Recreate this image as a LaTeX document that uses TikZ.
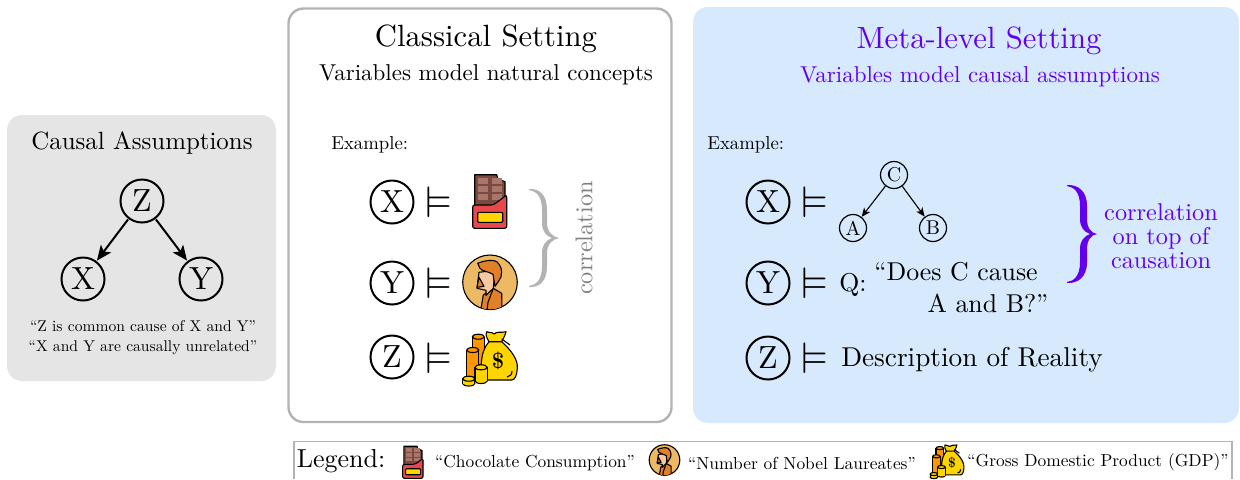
\documentclass[tikz,border=0pt]{standalone}
\usepackage{amssymb}
\usetikzlibrary{arrows.meta}

\definecolor{metablue}{HTML}{D7E9FD}
\definecolor{metapurple}{HTML}{6200EE}
\definecolor{panelgray}{HTML}{E5E5E5}
\definecolor{framegray}{HTML}{B3B3B3}
\definecolor{wrapred}{HTML}{E8474C}
\definecolor{barbrown}{HTML}{7A4A3F}
\definecolor{barlight}{HTML}{A8766A}
\definecolor{bagyellow}{HTML}{FFD500}
\definecolor{coinorange}{HTML}{FF9800}
\definecolor{skinorange}{HTML}{EDB965}
\definecolor{hairorange}{HTML}{E2802A}
\definecolor{facepeach}{HTML}{F6C9A0}

\newcommand{\fsz}[1]{\fontsize{#1}{#1}\selectfont}
% fill, centre x, half width, top y, bottom y
\newcommand{\coincyl}[5]{
  \filldraw[icon outline,fill=#1] (#2,#5) ellipse (#3 and 2.5);
  \fill[#1] ({#2-#3},#4) rectangle ({#2+#3},#5);
  \draw[icon outline] ({#2-#3},#4) -- ({#2-#3},#5) ({#2+#3},#4) -- ({#2+#3},#5);
  \filldraw[icon outline,fill=#1] (#2,#4) ellipse (#3 and 2.5);
}

\tikzset{
  every node/.style={font=\fsz{10}},
  varnode/.style={shape=circle,draw,line width=1pt,minimum size=13.44pt,inner sep=0pt,scale=1.6},
  smallnode/.style={shape=circle,draw,line width=0.6pt,minimum size=13.5pt,inner sep=0pt},
  modelsym/.style={inner sep=0pt,scale=2.2},
  causearrow/.style={-{Stealth[length=7.5pt,width=6.4pt,inset=1.8pt]},line width=1pt},
  smallarrow/.style={-{Stealth[length=4.5pt,width=3.8pt,inset=1.2pt]},line width=0.55pt},
  panelbox/.style={rounded corners=7.5pt},
  icon outline/.style={draw=black,line width=0.55pt,line join=round},
  pics/bigbrace/.style={code={
    \fill (-30,-49) .. controls (-20,-49.5) and (#1,-44) .. (#1,-28) -- (#1,-15) .. controls (#1,-6) and (-6,-1) .. (0,0)
      .. controls (-6,1) and (#1,6) .. (#1,15) -- (#1,28) .. controls (#1,44) and (-20,49.5) .. (-30,49)
      -- (-30,48) .. controls (-23,47) and (-17,42) .. (-17,28) -- (-17,15) .. controls (-17,7) and (-13,2) .. (-7,0)
      .. controls (-13,-2) and (-17,-7) .. (-17,-15) -- (-17,-28) .. controls (-17,-42) and (-23,-47) .. (-30,-48) -- cycle;
  }},
  pics/chocobar/.style={code={
    \filldraw[icon outline,fill=barbrown] (-15.3,-26.3) -- (6.7,-26.3) -- (8,-22) -- (15,-19.3) -- (15,6) -- (-15.3,6) -- cycle;
    \foreach \barx in {-12,2}
      \foreach \bary in {-23,-15,-7}
        \fill[barlight] (\barx,\bary) rectangle ++(10,6);
    \fill[wrapred!70!black] (3.3,4) -- (16.7,-6) -- (16.7,4) -- cycle;
    \filldraw[icon outline,fill=wrapred,rounded corners=1pt] (-17.3,4) -- (3.3,4) -- (16.7,-6) -- (16.7,27.3) -- (-17.3,27.3) -- cycle;
    \filldraw[icon outline,fill=bagyellow,rounded corners=0.5pt] (-12.3,11.3) rectangle (12.7,21.3);
  }},
  pics/laureate/.style={code={
    \filldraw[icon outline,fill=skinorange] (0,0) circle (27.3);
    \begin{scope}
      \clip (0,0) circle (27);
      \filldraw[icon outline,fill=hairorange] (-9.3,28) -- (-6.7,12.7) -- (3.3,6) -- (11.7,11) -- (12,28) -- cycle;
      \draw[icon outline] (3.3,6) -- (-2,20) -- (-3,28);
    \end{scope}
    \filldraw[icon outline,fill=facepeach] (-11,-10) -- (-13,6) -- (-4,8) -- (-4,13) -- (3.3,6) -- (5,-12) -- cycle;
    \filldraw[icon outline,fill=hairorange] (-12.3,-19) .. controls (-5,-22) and (3,-23) .. (6.7,-20.7)
      .. controls (13,-15) and (13,-6) .. (8.3,-0.7) -- (5,4) -- (3,-8) .. controls (-2,-11) and (-8,-11) .. (-10,-14) -- cycle;
    \filldraw[icon outline,fill=hairorange] (-11,-5) -- (-13,5) -- (-6,4) -- cycle;
  }},
  pics/moneybag/.style={code={
    \coincyl{coinorange}{-11.7}{6}{-23.3}{2}
    \filldraw[icon outline,fill=bagyellow] (-1,-18.3) .. controls (-3,-22) and (-5,-25) .. (-3.3,-28.3) .. controls (0,-26) and (1,-29) .. (4,-26)
      .. controls (7,-29) and (11,-27) .. (16,-28.3) .. controls (15,-24) and (13,-21) .. (11.7,-18.3) .. controls (22,-9) and (28,0) .. (27.3,8)
      .. controls (27,15) and (25,20) .. (21.7,20) -- (-6.7,20) .. controls (-10,8) and (-10,-8) .. (-1,-18.3) -- cycle;
    \draw[icon outline] (-1,-18.3) -- (11.7,-18.3) (11.7,-21) -- (20,-15);
    \draw[icon outline] (22,11) .. controls (22,15) and (20,16) .. (17,17);
    \coincyl{coinorange}{-17.2}{6.1}{-10}{16.7}
    \coincyl{bagyellow}{-8.9}{6.1}{7.3}{21}
    \coincyl{bagyellow}{-21.2}{6.1}{18.7}{23.5}
    \node[transform shape,inner sep=0pt,font=\fsz{11}\bfseries] (dollar) at (8,1) {\$};
  }},
}

\begin{document}
\begin{tikzpicture}[x=0.5pt,y=-0.5pt]
\useasboundingbox (0,0) rectangle (1240,479);

% panels
\fill[panelgray,panelbox] (7,115) rectangle (276,381);
\draw[framegray,panelbox,line width=1.2pt] (288.5,8.5) rectangle (671.5,422);
\fill[metablue,panelbox] (693,7) rectangle (1239,423);
\draw[framegray,line width=0.8pt] (294,479) -- (294,441.5) -- (1232,441.5) -- (1232,479);

% causal assumptions
\node[scale=1.245] (casstitle) at (142,143) {Causal Assumptions};
\node[varnode,fill=panelgray] (z0) at (142,201) {Z};
\node[varnode,fill=panelgray] (x0) at (83,279) {X};
\node[varnode,fill=panelgray] (y0) at (201,279) {Y};
\draw[causearrow] (z0) -- (x0);
\draw[causearrow] (z0) -- (y0);
\node[scale=0.78] (quoteone) at (143,326) {``Z is common cause of X and Y''};
\node[scale=0.78] (quotetwo) at (143,348) {``X and Y are causally unrelated''};

% classical setting
\node[scale=1.536] (classtitle) at (486,39) {Classical Setting};
\node[scale=1.148] (classsub) at (486,75) {Variables model natural concepts};
\node[anchor=west,inner sep=0pt,scale=0.935] (classex) at (331,145) {Example:};
\node[varnode] (x1) at (392,202) {X};
\node[varnode] (y1) at (392,283) {Y};
\node[varnode] (z1) at (392,357) {Z};
\node[modelsym] (m1) at (438.5,202) {$\vDash$};
\node[modelsym] (m2) at (438.5,283) {$\vDash$};
\node[modelsym] (m3) at (438.5,358) {$\vDash$};
\pic at (490,201) {chocobar};
\pic at (490,282.3) {laureate};
\pic at (490,360) {moneybag};
\pic[framegray] at (559,238) {bigbrace={-12}};
\node[rotate=90,text=black!50,scale=1.215] (classcorr) at (584,238) {correlation};

% meta-level setting
\node[text=metapurple,scale=1.536] (metatitle) at (979,41) {Meta-level Setting};
\node[text=metapurple,scale=1.148] (metasub) at (980,77) {Variables model causal assumptions};
\node[anchor=west,inner sep=0pt,scale=0.935] (metaex) at (707,145) {Example:};
\node[varnode] (x2) at (768,202) {X};
\node[varnode] (y2) at (768,283) {Y};
\node[varnode] (z2) at (768,358) {Z};
\node[modelsym] (m4) at (815,202) {$\vDash$};
\node[modelsym] (m5) at (815,283) {$\vDash$};
\node[modelsym] (m6) at (815,358) {$\vDash$};
\node[smallnode] (c) at (894,175) {C};
\node[smallnode] (a) at (853,228) {A};
\node[smallnode] (b) at (933,228) {B};
\draw[smallarrow] (c) -- (a);
\draw[smallarrow] (c) -- (b);
\node[scale=1.29] (qmark) at (853,285) {Q:};
\node[scale=1.29] (qone) at (956,272) {``Does C cause};
\node[scale=1.29] (qtwo) at (988,303) {A and B?''};
\node[scale=1.363] (reality) at (972,360) {Description of Reality};
\pic[metapurple] at (1097,234) {bigbrace={-10}};
\node[text=metapurple,scale=1.215,align=center,font=\fontsize{10}{9.8}\selectfont] (metacorr) at (1161,236.5) {correlation\\on top of\\causation};

% legend
\node[scale=1.3] (legend) at (341,461) {Legend:};
\pic[scale=0.6] at (413,462) {chocobar};
\node[scale=0.87] (legone) at (535,463) {``Chocolate Consumption''};
\pic[scale=0.56] at (664.5,460) {laureate};
\node[scale=0.87] (legtwo) at (802,463) {``Number of Nobel Laureates''};
\pic[scale=0.62] at (947,462.5) {moneybag};
\node[scale=0.87] (legthree) at (1098,462) {``Gross Domestic Product (GDP)''};
\end{tikzpicture}
\end{document}
